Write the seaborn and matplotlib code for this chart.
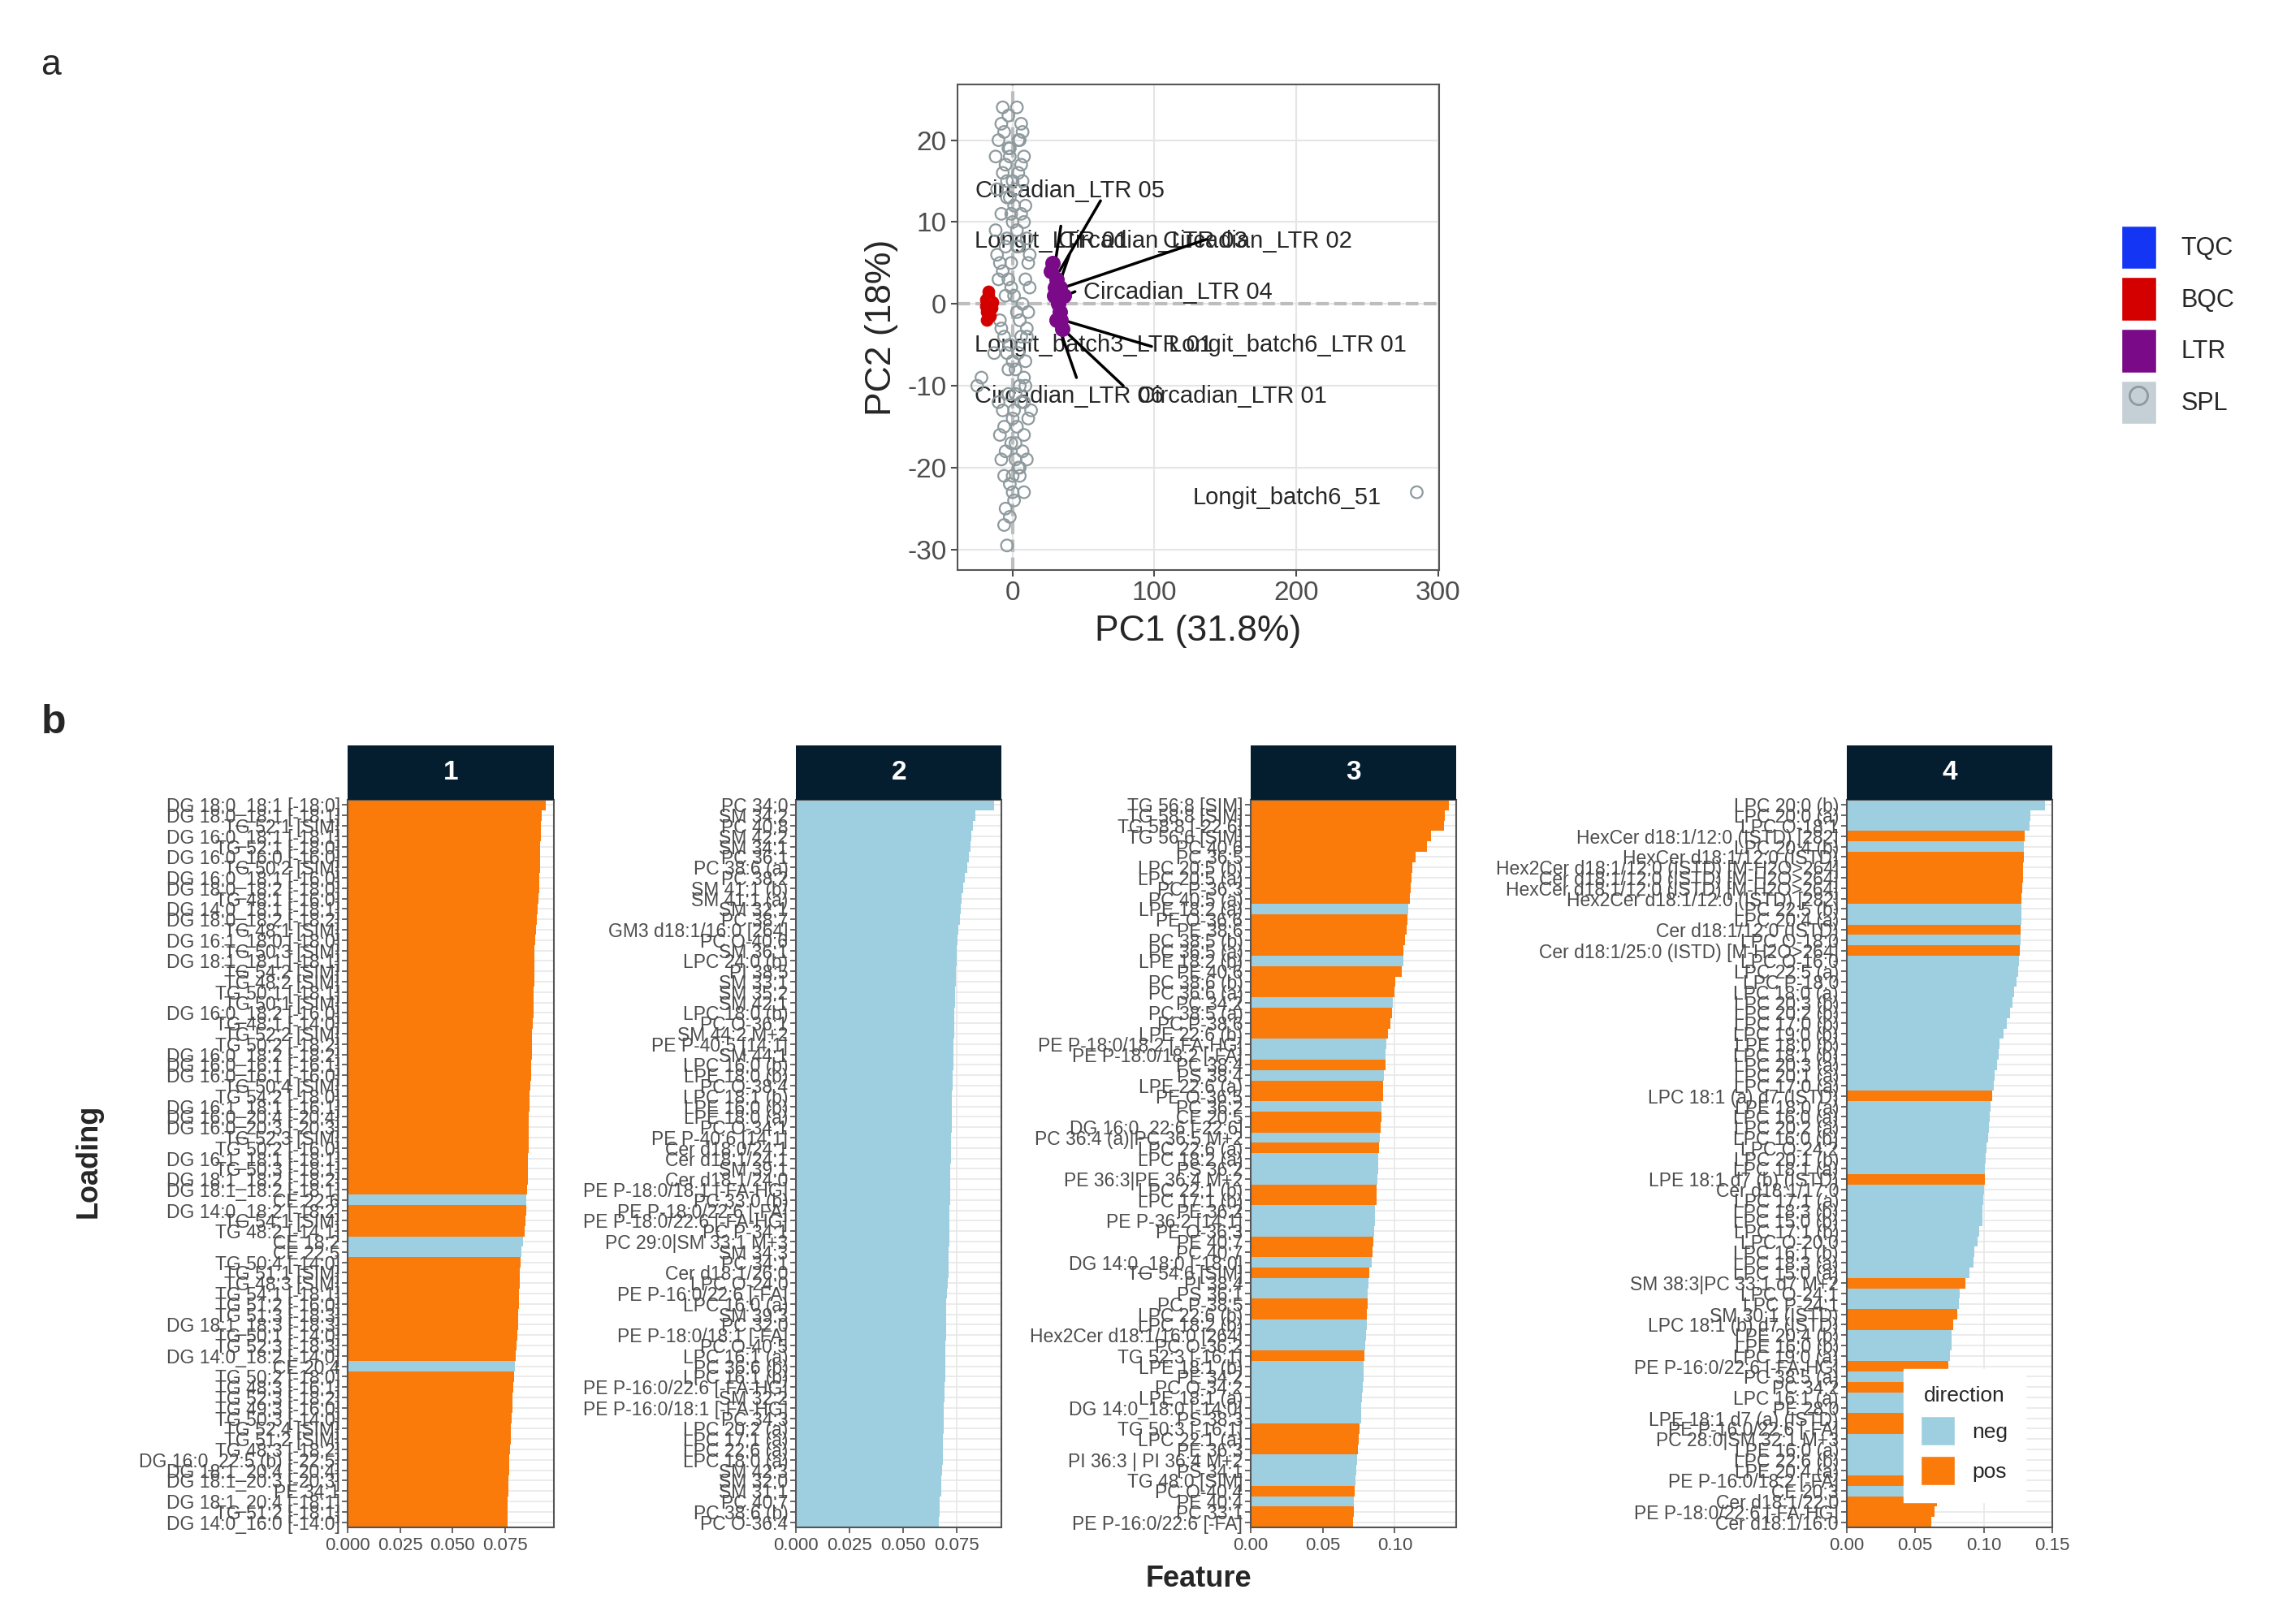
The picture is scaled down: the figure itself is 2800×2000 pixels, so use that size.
import seaborn as sns
import matplotlib.pyplot as plt
import pandas as pd
from matplotlib.patches import Patch
from matplotlib.lines import Line2D

# ---------------- panel a data (PCA scores) ----------------
spl_x = [-7, -6, -4, -2, 8, 285, -25, -22, -12, -10, -8, -6, -5, -4, -3, -2, -1, 0, 1, 2, 3, 4, 5, 6, 7, 8, 9, 10,
         -11, -9, -7, -5, -3, -1, 1, 3, 5, 7, 9, 11, 12, -8, -6, -4, -2, 0, 2, 4, 6, 8, 10, -10, -7, -3, 0, 3, 6, 9,
         -9, -5, -1, 2, 5, 8, 11, -6, -2, 1, 4, 7, 13, -12, -8, -4, 0, 4, 8, 12, -3, 3, 6, -5, 0, 5, 10, -2, 2,
         -13, -11, -9, -7, -5, -3, -1, 1, 3, 5, 7, 9, 11, -10, -6, -2, 2, 6, 10, -8, -4, 0, 4, 8]
spl_y = [24, -27, -29.5, -26, -23, -23, -10, -9, 18, 20, 22, 21, 17, 15, 19, 13, 11, 10, 12, 14, 9, 16, 20, 22, 21, 18, 12, 8,
         6, 5, 4, 7, 3, 2, 1, -1, -2, 0, 3, 5, 2, -3, -4, -6, -5, -7, -8, -6, -4, -9, -3, -12, -13, -11, -14, -15, -12, -10,
         -16, -18, -17, -19, -20, -16, -14, -21, -22, -24, -20, -18, -13, 9, 11, 13, 15, 7, 10, 6, 23, 24, 17, -25, -23, -21, -19, 19, -11,
         -6, 14, -2, 16, 1, -8, 5, -13, 7, -10, 15, -7, -1, 3, -15, 18, -17, 11, -4, -19, 8, -21, 20, -12]
bqc_x = [-19, -18, -17, -16, -15, -18, -17, -16, -14, -19]
bqc_y = [0.5, -1, 1, 0, -0.5, -2, 1.5, -1.5, 0.2, -0.3]
ltr_x = [27, 28, 30, 31, 32, 33, 34, 35, 36, 29, 31, 33]
ltr_y = [4, 5, 2, 3, 0, -1, -2, -3, 1, 1, -2, 2]

# ---------------- panel b data (loadings) ----------------
labels_1 = ["DG 18:0_18:1 [-18:0]", "DG 18:0_18:1 [-18:1]", "TG 52:1 [SIM]", "DG 16:0_18:1 [-18:1]", "TG 52:1 [-18:0]",
            "DG 16:0_16:0 [-16:0]", "TG 50:2 [SIM]", "DG 16:0_18:1 [-16:0]", "DG 18:0_18:2 [-18:0]", "TG 48:1 [-16:0]",
            "DG 14:0_18:1 [-18:1]", "DG 18:0_18:2 [-18:2]", "TG 48:1 [SIM]", "DG 16:1_18:0 [-18:0]", "TG 50:3 [SIM]",
            "DG 18:1_18:1 [-18:1]", "TG 54:2 [SIM]", "TG 48:2 [SIM]", "TG 50:1 [-18:1]", "TG 50:1 [SIM]",
            "DG 16:0_18:2 [-16:0]", "TG 48:1 [-14:0]", "TG 52:2 [SIM]", "TG 50:2 [-18:2]", "DG 16:0_18:2 [-18:2]",
            "DG 16:0_16:1 [-16:1]", "DG 16:0_16:1 [-16:0]", "TG 50:4 [SIM]", "TG 54:2 [-18:0]", "DG 16:1_18:1 [-16:1]",
            "DG 16:0_20:4 [-20:4]", "DG 16:0_20:3 [-20:3]", "TG 52:3 [SIM]", "TG 50:2 [-16:0]", "DG 16:1_18:1 [-18:1]",
            "TG 50:3 [-18:1]", "DG 18:1_18:2 [-18:2]", "DG 18:1_18:2 [-18:1]", "CE 22:6", "DG 14:0_18:2 [-18:2]",
            "TG 54:1 [SIM]", "TG 48:2 [-14:1]", "CE 18:2", "CE 22:5", "TG 50:4 [-14:0]",
            "TG 51:1 [SIM]", "TG 48:3 [SIM]", "TG 54:1 [-18:1]", "TG 51:2 [-16:0]", "TG 51:3 [-18:3]",
            "DG 18:1_18:3 [-18:3]", "TG 50:1 [-14:0]", "TG 52:3 [-18:3]", "DG 14:0_18:2 [-14:0]", "CE 20:4",
            "TG 50:2 [-18:0]", "TG 48:3 [-16:1]", "TG 52:3 [-18:2]", "TG 49:3 [-16:0]", "TG 50:3 [-14:0]",
            "TG 52:4 [SIM]", "TG 51:2 [SIM]", "TG 48:3 [-18:2]", "DG 16:0_22:5 (b) [-22:5]", "DG 18:1_20:4 [-20:4]",
            "DG 18:1_20:3 [-20:3]", "PE 34:1", "DG 18:1_20:4 [-18:1]", "TG 51:2 [-18:1]", "DG 14:0_16:0 [-14:0]"]
values_1 = [0.0945, 0.0925, 0.0922, 0.0920, 0.0918, 0.0917, 0.0915, 0.0914, 0.0912, 0.0910,
            0.0907, 0.0903, 0.0898, 0.0893, 0.0891, 0.0890, 0.0889, 0.0888, 0.0887, 0.0886,
            0.0885, 0.0883, 0.0880, 0.0879, 0.0878, 0.0876, 0.0874, 0.0871, 0.0868, 0.0866,
            0.0864, 0.0863, 0.0862, 0.0861, 0.0860, 0.0858, 0.0857, 0.0856, 0.0852, 0.0850,
            0.0848, 0.0845, 0.0835, 0.0826, 0.0822, 0.0820, 0.0819, 0.0818, 0.0816, 0.0814,
            0.0812, 0.0808, 0.0805, 0.0800, 0.0795, 0.0792, 0.0790, 0.0787, 0.0784, 0.0781,
            0.0778, 0.0776, 0.0774, 0.0771, 0.0769, 0.0766, 0.0764, 0.0763, 0.0762, 0.0761]
neg_1 = ["CE 22:6", "CE 18:2", "CE 22:5", "CE 20:4"]

labels_2 = ["PC 34:0", "SM 34:2", "PC 40:8", "SM 42:2", "SM 34:1", "PC 36:1", "PC 38:6 (a)", "PC 38:2", "SM 41:1 (b)",
            "SM 41:1 (a)", "SM 32:1", "PC 38:7", "GM3 d18:1/16:0 [264]", "PC O-40:6", "SM 36:1", "LPC 24:0 (b)",
            "PI 38:5", "SM 33:1", "SM 35:2", "SM 42:1", "LPC 18:0 (b)", "PC O-36:1", "SM 44:2 M+2", "PE P-40:5 [14:1]",
            "SM 44:1", "LPC 16:0 (b)", "LPE 18:0 (b)", "PC O-38:4", "LPC 18:1 (b)", "LPE 16:0 (b)", "LPE 18:0 (a)",
            "PC O-34:1", "PE P-40:6 [14:1]", "Cer d18:0/24:1", "Cer d18:1/24:1", "SM 39:1", "Cer d18:1/24:0",
            "PE P-18:0/18:1 [-FA-HG]", "PC 33:0 (b)", "PE P-18:0/22:6 [-FA]", "PE P-18:0/22:6 [-FA-HG]", "PC P-34:1",
            "PC 29:0|SM 33:1 M+3", "SM 34:3", "PC 34:1", "Cer d18:1/26:0", "LPC O-24:0", "PE P-16:0/22:6 [-FA]",
            "LPC 16:0 (a)", "SM 39:3", "PC 32:0", "PE P-18:0/18:1 [-FA]", "PC O-40:5", "LPC 16:1 (a)", "PC 36:6 (b)",
            "LPC 16:1 (b)", "PE P-16:0/22:6 [-FA-HG]", "SM 32:2", "PE P-16:0/18:1 [-FA-HG]", "PC 34:3", "LPC 20:2 (a)",
            "LPC 17:1 (a)", "LPC 22:6 (a)", "LPC 18:0 (a)", "SM 42:3", "SM 32:0", "SM 31:1", "PC 40:7", "PC 38:6 (b)",
            "PC O-36:4"]
values_2 = [0.0922, 0.0835, 0.0825, 0.0818, 0.0812, 0.0804, 0.0796, 0.0788, 0.0778, 0.0773,
            0.0768, 0.0762, 0.0756, 0.0751, 0.0749, 0.0747, 0.0746, 0.0744, 0.0742, 0.0740,
            0.0739, 0.0738, 0.0736, 0.0735, 0.0733, 0.0732, 0.0730, 0.0729, 0.0727, 0.0726,
            0.0725, 0.0724, 0.0723, 0.0722, 0.0721, 0.0720, 0.0719, 0.0718, 0.0717, 0.0716,
            0.0715, 0.0714, 0.0713, 0.0712, 0.0711, 0.0709, 0.0707, 0.0704, 0.0701, 0.0700,
            0.0699, 0.0698, 0.0697, 0.0696, 0.0695, 0.0694, 0.0692, 0.0691, 0.0689, 0.0688,
            0.0687, 0.0686, 0.0685, 0.0683, 0.0681, 0.0678, 0.0675, 0.0671, 0.0668, 0.0666]

labels_3 = ["TG 56:8 [SIM]", "TG 58:8 [SIM]", "TG 58:8 [-22:6]", "TG 56:6 [SIM]", "PC 40:6", "PC 36:5", "LPC 20:5 (b)",
            "LPC 20:5 (a)", "PC P-36:3", "PC 40:5 (a)", "LPE 18:2 (a)", "PE O-36:6", "PE 38:6", "PC 38:5 (b)",
            "PC 36:5 (a)", "LPE 18:2 (b)", "PE 40:6", "PC 38:6 (b)", "PC 36:6 (a)", "PC 34:2", "PC 38:5 (a)",
            "PC P-38:6", "LPE 22:6 (b)", "PE P-18:0/18:2 [-FA-HG]", "PE P-18:0/18:2 [-FA]", "PC 38:4", "PS 38:4",
            "LPE 22:6 (a)", "PE O-36:5", "PC 36:2", "CE 20:5", "DG 16:0_22:6 [-22:6]", "PC 36:4 (a)|PC 36:5 M+2",
            "LPC 22:6 (a)", "LPC 18:2 (a)", "PS 36:2", "PE 36:3|PE 36:4 M+2", "LPC 22:1 (b)", "LPC 17:1 (b)",
            "PE 36:2", "PE P-36:2 [14:1]", "PE O-36:3", "PE 40:7", "PC 40:7", "DG 14:0_18:0 [-18:0]", "TG 54:6 [SIM]",
            "PI 38:4", "PS 36:1", "PC P-38:5", "LPC 22:6 (b)", "LPC 18:2 (b)", "Hex2Cer d18:1/16:0 [264]", "PC O-36:2",
            "TG 52:3 [-16:1]", "LPE 18:1 (b)", "PE 34:2", "PC O-34:2", "LPE 18:1 (a)", "DG 14:0_18:0 [-14:0]",
            "PS 38:3", "TG 50:3 [-16:1]", "LPC 22:1 (a)", "PE 36:3", "PI 36:3 | PI 36:4 M+2", "PS 34:1",
            "TG 48:0 [SIM]", "PC O-40:4", "PE 40:4", "PC 33:1", "PE P-16:0/22:6 [-FA]"]
values_3 = [0.1376, 0.1347, 0.1343, 0.1249, 0.1225, 0.1146, 0.1122, 0.1118, 0.1111, 0.1105,
            0.1096, 0.1090, 0.1081, 0.1068, 0.1062, 0.1057, 0.1046, 0.1004, 0.0998, 0.0989,
            0.0978, 0.0972, 0.0954, 0.0943, 0.0938, 0.0934, 0.0927, 0.0921, 0.0916, 0.0910,
            0.0906, 0.0903, 0.0895, 0.0892, 0.0886, 0.0882, 0.0878, 0.0875, 0.0871, 0.0862,
            0.0860, 0.0856, 0.0851, 0.0845, 0.0840, 0.0825, 0.0819, 0.0814, 0.0810, 0.0808,
            0.0806, 0.0801, 0.0795, 0.0788, 0.0786, 0.0782, 0.0776, 0.0773, 0.0769, 0.0764,
            0.0755, 0.0747, 0.0742, 0.0738, 0.0734, 0.0729, 0.0723, 0.0716, 0.0714, 0.0712]
neg_3 = ["LPE 18:2 (a)", "LPE 18:2 (b)", "PC 34:2", "PE P-18:0/18:2 [-FA-HG]", "PE P-18:0/18:2 [-FA]", "PS 38:4",
         "PC 36:2", "PC 36:4 (a)|PC 36:5 M+2", "LPC 18:2 (a)", "PS 36:2", "PE 36:3|PE 36:4 M+2", "PE 36:2",
         "PE P-36:2 [14:1]", "PE O-36:3", "DG 14:0_18:0 [-18:0]", "PI 38:4", "PS 36:1", "LPC 18:2 (b)",
         "Hex2Cer d18:1/16:0 [264]", "PC O-36:2", "LPE 18:1 (b)", "PE 34:2", "PC O-34:2", "LPE 18:1 (a)",
         "DG 14:0_18:0 [-14:0]", "PS 38:3", "PI 36:3 | PI 36:4 M+2", "PS 34:1", "TG 48:0 [SIM]", "PE 40:4"]

labels_4 = ["LPC 20:0 (b)", "LPC 20:0 (a)", "LPC O-18:1", "HexCer d18:1/12:0 (ISTD) [282]", "LPC 20:4 (b)",
            "HexCer d18:1/12:0 (ISTD)", "Hex2Cer d18:1/12:0 (ISTD) [M-H2O>264]", "Cer d18:1/12:0 (ISTD) [M-H2O>264]",
            "HexCer d18:1/12:0 (ISTD) [M-H2O>264]", "Hex2Cer d18:1/12:0 (ISTD) [282]", "LPC 22:5 (b)", "LPC 20:4 (a)",
            "Cer d18:1/12:0 (ISTD)", "LPC O-18:0", "Cer d18:1/25:0 (ISTD) [M-H2O>264]", "LPC O-16:0", "LPC 22:5 (a)",
            "LPC P-18:0", "LPC 18:0 (a)", "LPC 20:3 (b)", "LPC 20:2 (b)", "LPC 17:0 (b)", "LPC 19:0 (b)",
            "LPE 18:0 (b)", "LPC 18:1 (b)", "LPC 20:3 (a)", "LPC 20:1 (a)", "LPC 17:0 (a)", "LPC 18:1 (a) d7 (ISTD)",
            "LPE 18:0 (a)", "LPC 16:0 (a)", "LPC 20:2 (a)", "LPC 16:0 (b)", "LPC O-24:2", "LPC 20:1 (b)",
            "LPC 18:1 (a)", "LPE 18:1 d7 (b) (ISTD)", "Cer d18:1/17:0", "LPC 17:1 (a)", "LPC 18:3 (b)",
            "LPC 15:0 (b)", "LPC 17:1 (b)", "LPC O-20:0", "LPC 16:1 (b)", "LPC 18:3 (a)", "LPC 15:0 (a)",
            "SM 38:3|PC 33:1 d7 M+2", "LPC O-24:1", "LPC P-24:1", "SM 30:1 (ISTD)", "LPC 18:1 (b) d7 (ISTD)",
            "LPE 20:4 (b)", "LPE 16:0 (b)", "LPC 19:0 (a)", "PE P-16:0/22:6 [-FA-HG]", "PC 38:5 (a)", "PC 34:2",
            "LPC 16:1 (a)", "PE 28:0", "LPE 18:1 d7 (a) (ISTD)", "PE P-16:0/22:6 [-FA]", "PC 28:0|SM 32:1 M+3",
            "LPE 16:0 (a)", "LPC 22:6 (b)", "LPE 20:4 (a)", "PE P-16:0/18:2 [-FA]", "CE 20:3", "Cer d18:1/22:0",
            "PE P-18:0/22:6 [-FA-HG]", "Cer d18:1/16:0"]
values_4 = [0.1444, 0.1340, 0.1332, 0.1298, 0.1295, 0.1292, 0.1289, 0.1285, 0.1280, 0.1278,
            0.1275, 0.1273, 0.1272, 0.1268, 0.1264, 0.1258, 0.1250, 0.1240, 0.1223, 0.1212,
            0.1195, 0.1169, 0.1146, 0.1117, 0.1108, 0.1100, 0.1080, 0.1072, 0.1060, 0.1052,
            0.1045, 0.1037, 0.1030, 0.1023, 0.1017, 0.1011, 0.1009, 0.1003, 0.0997, 0.0993,
            0.0989, 0.0966, 0.0957, 0.0931, 0.0925, 0.0894, 0.0865, 0.0828, 0.0822, 0.0805,
            0.0777, 0.0768, 0.0765, 0.0754, 0.0745, 0.0740, 0.0735, 0.0728, 0.0720, 0.0710,
            0.0705, 0.0700, 0.0695, 0.0690, 0.0685, 0.0680, 0.0672, 0.0660, 0.0640, 0.0616]
pos_4 = ["HexCer d18:1/12:0 (ISTD) [282]", "HexCer d18:1/12:0 (ISTD)", "Hex2Cer d18:1/12:0 (ISTD) [M-H2O>264]",
         "Cer d18:1/12:0 (ISTD) [M-H2O>264]", "HexCer d18:1/12:0 (ISTD) [M-H2O>264]", "Hex2Cer d18:1/12:0 (ISTD) [282]",
         "Cer d18:1/12:0 (ISTD)", "Cer d18:1/25:0 (ISTD) [M-H2O>264]", "LPC 18:1 (a) d7 (ISTD)",
         "LPE 18:1 d7 (b) (ISTD)", "SM 38:3|PC 33:1 d7 M+2", "SM 30:1 (ISTD)", "LPC 18:1 (b) d7 (ISTD)",
         "PE P-16:0/22:6 [-FA-HG]", "PC 34:2", "LPE 18:1 d7 (a) (ISTD)", "PE P-16:0/22:6 [-FA]",
         "PE P-16:0/18:2 [-FA]", "Cer d18:1/22:0", "PE P-18:0/22:6 [-FA-HG]", "Cer d18:1/16:0"]

ORANGE = "#FA7A0A"
LBLUE = "#9ECFE0"

sns.set_theme(style="white")
plt.rcParams['font.family'] = ['Liberation Sans', 'DejaVu Sans']
plt.rcParams['axes.unicode_minus'] = False

fig = plt.figure(figsize=(28, 20), dpi=100)

# ---------------- panel a ----------------
ax = fig.add_axes([0.421, 0.649, 0.212, 0.299])
ax.set_xlim(-39, 301)
ax.set_ylim(-32.5, 26.8)
ax.set_xticks([0, 100, 200, 300])
ax.set_yticks([-30, -20, -10, 0, 10, 20])
ax.grid(True, color="#E5E5E5", lw=1.5)
ax.axhline(0, color="#BDBDBD", ls="--", lw=3, zorder=1)
ax.axvline(0, color="#BDBDBD", ls="--", lw=3, zorder=1)
for s in ax.spines.values():
    s.set_color("#555555")
    s.set_linewidth(1.5)
ax.tick_params(labelsize=24, colors="#4D4D4D", length=6, width=1.5, left=True, bottom=True)

# labels with connectors (drawn beneath the points)
lab_txt = ["Circadian_LTR 05", "Longit_LTR 01", "Circadian_LTR 03", "Circadian_LTR 02", "Circadian_LTR 04",
           "Longit_batch3_LTR 01", "Longit_batch6_LTR 01", "Circadian_LTR 06", "Circadian_LTR 01"]
lab_x = [-26, -27, 32, 106, 50, -27, 110, -27, 88]
lab_y = [13.8, 7.7, 7.7, 7.7, 1.4, -5.0, -5.0, -11.3, -11.3]
seg_x0 = [33, 30, 34, 36, 37, 33, 36, 33, 35]
seg_y0 = [4, 5, 3, 2, 1, -1, -2, -3, -3]
seg_x1 = [62, 34, 40, 137, 44, 36, 98, 45, 78]
seg_y1 = [12.6, 9.5, 6, 7.9, 1.5, -5, -5.2, -9, -10]
for t, x, y in zip(lab_txt, lab_x, lab_y):
    ax.text(x, y, t, fontsize=21, va="center", ha="left", zorder=2)
for a, b, c, d in zip(seg_x0, seg_y0, seg_x1, seg_y1):
    ax.plot([a, c], [b, d], color="black", lw=2.5, zorder=2)
ax.text(127, -23.7, "Longit_batch6_51", fontsize=21, va="center", ha="left", zorder=2)

sns.scatterplot(x=spl_x, y=spl_y, ax=ax, s=110, facecolors="none", edgecolor="#8E9A9E", linewidth=1.6, zorder=3)
sns.scatterplot(x=bqc_x, y=bqc_y, ax=ax, s=110, color="#D40000", edgecolor="#D40000", zorder=4)
sns.scatterplot(x=ltr_x, y=ltr_y, ax=ax, s=160, color="#7A0A88", edgecolor="#7A0A88", zorder=5)
ax.set_xlabel("PC1 (31.8%)", fontsize=32, labelpad=8)
ax.set_ylabel("PC2 (18%)", fontsize=32, labelpad=8)

handles_a = [Patch(facecolor="#1535F5"), Patch(facecolor="#D40000"), Patch(facecolor="#7A0A88"),
             (Patch(facecolor="#C4D0D5"), Line2D([], [], marker="o", ls="", mfc="none", mec="#8E9A9E", ms=16, mew=2))]
fig.legend(handles_a, ["TQC", "BQC", "LTR", "SPL"], loc="center left", bbox_to_anchor=(0.923, 0.80),
           frameon=False, fontsize=22, handlelength=1.4, handleheight=2.3, labelspacing=0.35, handletextpad=1.0)

fig.text(0.018, 0.96, "a", fontsize=32, va="center")
fig.text(0.018, 0.555, "b", fontsize=36, fontweight="bold", va="center")

# ---------------- panel b ----------------
facets = [(labels_1, values_1, [("neg" if l in neg_1 else "pos") for l in labels_1]),
          (labels_2, values_2, ["neg" for l in labels_2]),
          (labels_3, values_3, [("neg" if l in neg_3 else "pos") for l in labels_3]),
          (labels_4, values_4, [("pos" if l in pos_4 else "neg") for l in labels_4])]
lefts = [0.153, 0.350, 0.550, 0.812]
width = 0.0905
xmax = [0.0982, 0.0958, 0.1428, 0.150]
xticks = [[0, 0.025, 0.05, 0.075], [0, 0.025, 0.05, 0.075], [0, 0.05, 0.10], [0, 0.05, 0.10, 0.15]]
xtl = [["0.000", "0.025", "0.050", "0.075"], ["0.000", "0.025", "0.050", "0.075"],
       ["0.00", "0.05", "0.10"], ["0.00", "0.05", "0.10", "0.15"]]
for i, (labs, vals, dirs) in enumerate(facets):
    bx = fig.add_axes([lefts[i], 0.0595, width, 0.448])
    df = pd.DataFrame({"Feature": labs, "Loading": vals, "direction": dirs})
    sns.barplot(data=df, y="Feature", x="Loading", hue="direction", order=labs, hue_order=["neg", "pos"],
                palette={"neg": LBLUE, "pos": ORANGE}, dodge=False, width=1.0, orient="h",
                saturation=1, linewidth=0, legend=False, ax=bx)
    bx.set_axisbelow(True)
    bx.grid(True, color="#E8E8E8", lw=1.2)
    bx.set_xlim(0, xmax[i])
    bx.set_ylim(len(labs) - 0.5, -0.5)
    bx.set_xticks(xticks[i])
    bx.set_xticklabels(xtl[i])
    bx.tick_params(axis="y", labelsize=16.5, colors="#4D4D4D", length=5, width=1.2, left=True, pad=2)
    bx.tick_params(axis="x", labelsize=16, colors="#4D4D4D", length=5, width=1.2, bottom=True)
    for s in bx.spines.values():
        s.set_color("#555555")
        s.set_linewidth(1.5)
    bx.set_xlabel("")
    bx.set_ylabel("")
    st = fig.add_axes([lefts[i], 0.5075, width, 0.0335])
    st.set_facecolor("#041E2F")
    st.set_xticks([])
    st.set_yticks([])
    for s in st.spines.values():
        s.set_visible(False)
    st.text(0.5, 0.5, str(i + 1), color="white", fontsize=24, fontweight="bold", ha="center", va="center",
            transform=st.transAxes)
    if i == 3:
        leg = bx.legend([Patch(facecolor=LBLUE), Patch(facecolor=ORANGE)], ["neg", "pos"], title="direction",
                        loc="lower right", bbox_to_anchor=(0.92, 0.02), fontsize=19, title_fontsize=19,
                        frameon=True, fancybox=False, framealpha=1, edgecolor="white",
                        handlelength=1.6, handleheight=1.7, borderpad=0.8, labelspacing=0.5)
        leg.get_title().set_ha("left")

fig.text(0.039, 0.285, "Loading", rotation=90, fontsize=26, fontweight="bold", va="center", ha="center")
fig.text(0.527, 0.028, "Feature", fontsize=26, fontweight="bold", va="center", ha="center")

fig.savefig("out.png", dpi=100)
